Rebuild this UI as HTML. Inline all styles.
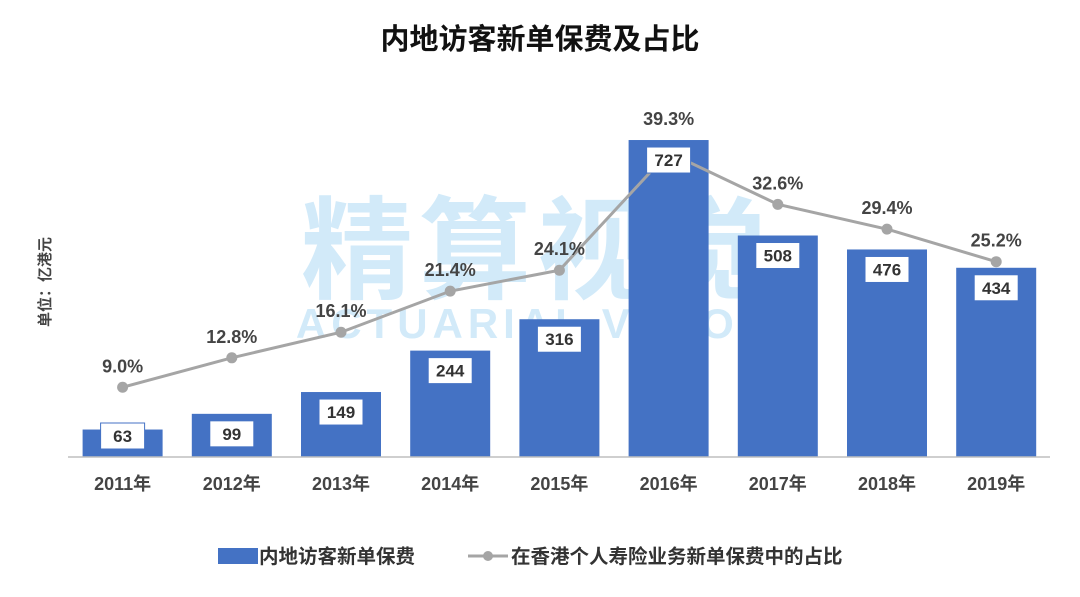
<!DOCTYPE html>
<html><head><meta charset="utf-8"><style>
body{margin:0;background:#fff;}
svg{display:block;font-family:"Liberation Sans","Noto Sans CJK SC",sans-serif;}
</style></head><body>
<svg id="chart" width="1080" height="597" viewBox="0 0 1080 597">
<text x="540" y="49" text-anchor="middle" font-size="29" font-weight="bold" fill="#111">内地访客新单保费及占比</text>
<g opacity="0.35">
<text x="537" y="290" text-anchor="middle" font-size="112" font-weight="bold" fill="#7fc4ee" letter-spacing="6">精算视觉</text>
<text x="535" y="338" text-anchor="middle" font-size="42" font-weight="bold" fill="#7fc4ee" letter-spacing="5">ACTUARIAL VISION</text>
</g>
<text transform="translate(50,282) rotate(-90)" text-anchor="middle" font-size="15" font-weight="bold" fill="#444">单位：亿港元</text>
<g id="plot"></g>
<g>
<rect x="218" y="548" width="40" height="16" fill="#4472c4"/>
<text x="259" y="563" font-size="19.5" font-weight="bold" fill="#333">内地访客新单保费</text>
<line x1="468" y1="556" x2="508" y2="556" stroke="#a5a5a5" stroke-width="3"/>
<circle cx="488" cy="556" r="5" fill="#a5a5a5"/>
<text x="511" y="563" font-size="19.5" font-weight="bold" fill="#333">在香港个人寿险业务新单保费中的占比</text>
</g>
</svg>
<script>
const categories=["2011年","2012年","2013年","2014年","2015年","2016年","2017年","2018年","2019年"];
const premiums=[63,99,149,244,316,727,508,476,434];
const shares=[9.0,12.8,16.1,21.4,24.1,39.3,32.6,29.4,25.2];
const NS="http://www.w3.org/2000/svg";
const g=document.getElementById('plot');
const base=457, x0=68, step=109.2;
const xc=i=>x0+step*(i+0.5);
const yb=v=>base-v*0.436;
const yp=p=>base-p*7.75;
function mk(t,a){const e=document.createElementNS(NS,t);for(const k in a)e.setAttribute(k,a[k]);g.appendChild(e);return e;}
categories.forEach((c,i)=>{
 const r=mk('rect',{x:xc(i)-40,y:yb(premiums[i]),width:80,height:base-yb(premiums[i]),fill:'#4472c4'});
 
 
 const t=mk('text',{x:xc(i),y:base+33,'text-anchor':'middle','font-size':18,'font-weight':'bold',fill:'#444'});
 t.textContent=c;
 
 
});
const ax=mk('line',{x1:x0,y1:base,x2:1050,y2:base,stroke:'#bfbfbf','stroke-width':1.5});


const pl=mk('polyline',{points:shares.map((p,i)=>xc(i)+','+yp(p)).join(' '),fill:'none',stroke:'#a5a5a5','stroke-width':3});


shares.forEach((p,i)=>{
 const c=mk('circle',{cx:xc(i),cy:yp(p),r:5.5,fill:'#a5a5a5'});
 
 
});
categories.forEach((c,i)=>{
 const cy=Math.min(yb(premiums[i])+20,436);
 const b=mk('rect',{x:xc(i)-22,y:cy-13,width:44,height:26,fill:'#fff',stroke:'#4472c4','stroke-width':1});
 
 
 const t=mk('text',{x:xc(i),y:cy+6,'text-anchor':'middle','font-size':17,'font-weight':'bold',fill:'#333'});
 t.textContent=premiums[i];
 
 
 const pt=mk('text',{x:xc(i),y:Math.min(yp(shares[i]),yb(premiums[i]))-15,'text-anchor':'middle','font-size':18,'font-weight':'bold',fill:'#444'});
 pt.textContent=shares[i].toFixed(1)+'%';
 
 
});
</script>
</body></html>
